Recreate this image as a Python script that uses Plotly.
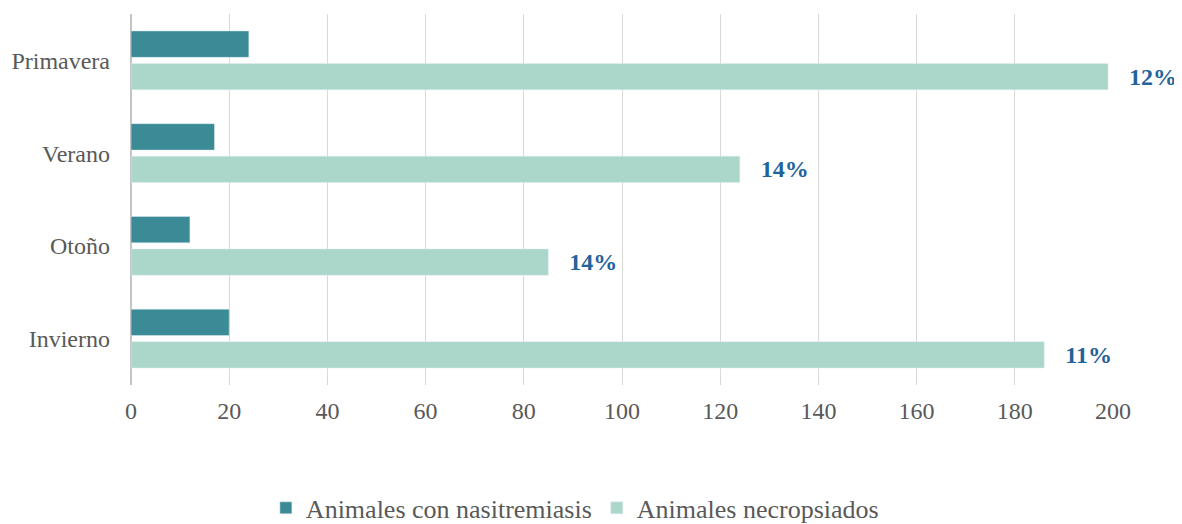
import plotly.graph_objects as go

# Seasons (top to bottom) and values
seasons = ["Primavera", "Verano", "Otoño", "Invierno"]
con_nasitremiasis = [24, 17, 12, 20]
necropsiados = [199, 124, 85, 186]
porcentajes = ["12%", "14%", "14%", "11%"]

serif = "Liberation Serif, Times New Roman, serif"

fig = go.Figure()

fig.add_trace(go.Bar(
    y=seasons, x=con_nasitremiasis, orientation="h",
    name="Animales con nasitremiasis",
    marker=dict(color="#3A8B95"),
))

fig.add_trace(go.Bar(
    y=seasons, x=necropsiados, orientation="h",
    name="Animales necropsiados",
    marker=dict(color="#AAD7CA"),
    text=["   <b>" + p + "</b>" for p in porcentajes],
    textposition="outside",
    textfont=dict(family=serif, size=24, color="#24639A"),
    cliponaxis=False,
))

# page body has an 8px margin, so the figure is a bit smaller
fig.update_layout(
    barmode="group",
    bargap=0.3,
    bargroupgap=0.185,
    width=1174, height=516,
    margin=dict(l=123, r=69, t=6, b=139, autoexpand=False),
    plot_bgcolor="white",
    paper_bgcolor="white",
    font=dict(family=serif, size=24, color="#595959"),
    showlegend=True,
    legend=dict(orientation="h", x=0.452, xanchor="center", y=-0.268, yanchor="top",
                font=dict(size=26, color="#595959"), itemwidth=30,
                traceorder="normal"),
)

fig.update_xaxes(
    range=[0, 200], dtick=20, showgrid=True, gridcolor="#D9D9D9", gridwidth=1,
    zeroline=True, zerolinecolor="#C4C4C4", zerolinewidth=1.5,
    showline=False, ticks="", tickfont=dict(size=24, color="#595959"),
    automargin=False, ticklabelstandoff=9,
)
fig.update_yaxes(
    autorange="reversed", showgrid=False, showline=False, ticks="",
    tickfont=dict(size=24, color="#595959"),
    automargin=False, ticklabelstandoff=20,
)

fig.write_html("out.html")
